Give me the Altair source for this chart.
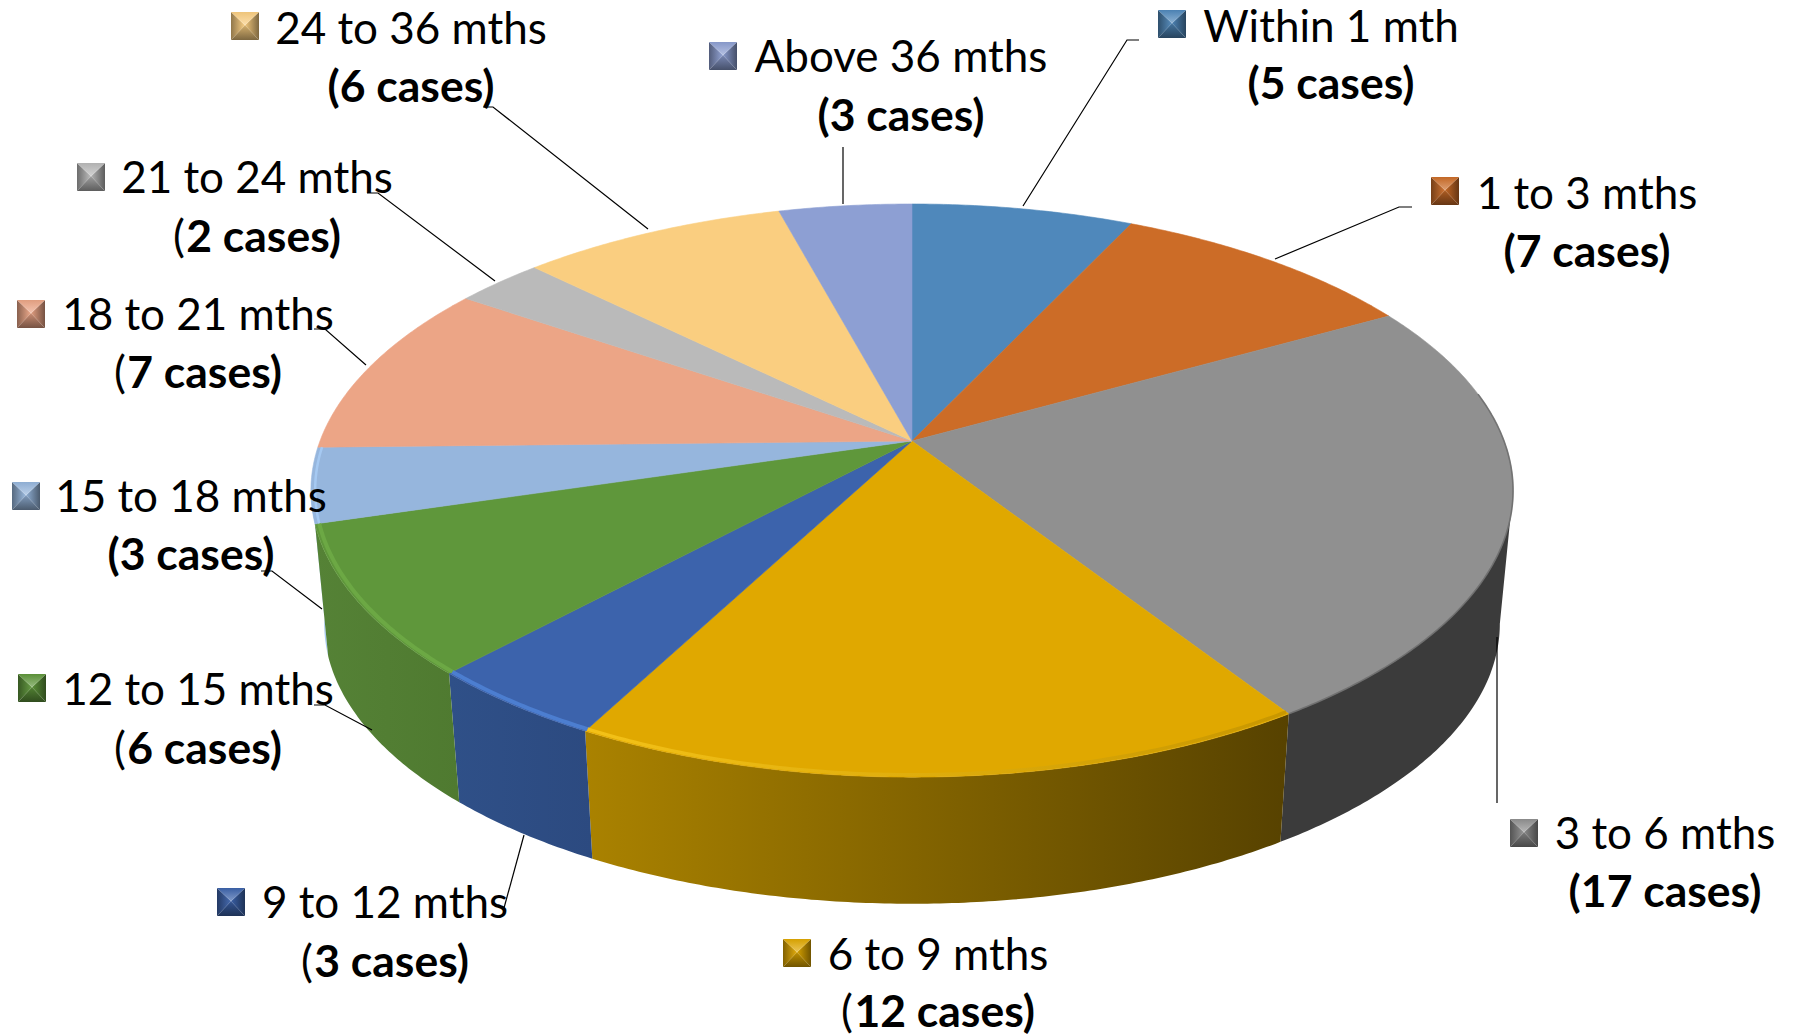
import math
import altair as alt
import pandas as pd

# Months-to-outcome groups, clockwise from twelve o'clock
GROUPS = ["Within 1 mth", "1 to 3 mths", "3 to 6 mths", "6 to 9 mths", "9 to 12 mths",
          "12 to 15 mths", "15 to 18 mths", "18 to 21 mths", "21 to 24 mths",
          "24 to 36 mths", "Above 36 mths"]
CASES = [5, 7, 17, 12, 3, 6, 3, 7, 2, 6, 3]
TOP_COLOURS = ["#4F88BB", "#CC6C27", "#909090", "#E0A800", "#3C63AC", "#5F973B",
               "#96B6DD", "#ECA586", "#BABABA", "#FACE80", "#8D9FD3"]

# Outer wall: slice index, left shade, right shade, visible start/end override (degrees)
WALLS = [(6, "#A8CAF2", "#A8CAF2", None, 262.0),
         (2, "#3B3B3B", "#3B3B3B", 100.0, None),
         (3, "#AA8200", "#574200", None, None),
         (4, "#2F5088", "#2C4A80", None, None),
         (5, "#558236", "#4F7A30", None, None)]
# Bevel along the near rim: slice index, left shade, right shade, weight, radius, start override
RIMS = [(2, "#6A6A6A", "#6A6A6A", 1.6, 1.0, 80.0),
        (3, "#F7C61C", "#C49400", 3.5, 0.993, None),
        (4, "#4F82D6", "#4F82D6", 4.0, 0.993, None),
        (5, "#6EAA46", "#6EAA46", 4.0, 0.993, None),
        (6, "#A8CCF6", "#A8CCF6", 2.5, 0.993, None)]

# Label placement
TEXT_X = [1331, 1587, 1665, 938, 385, 198, 191, 198, 257, 411, 901]
LINE1_Y = [42, 209, 849, 970, 918, 705, 512, 330, 193, 44, 72]
LINE2_Y = [99, 267, 907, 1027, 977, 764, 570, 388, 252, 102, 131]
# Labels whose opening bracket is set in the regular weight
LIGHT_BRACKET = [3, 4, 5, 7, 8]
KEY_X = [1158, 1431, 1510, 783, 217, 18, 12, 17, 77, 231, 709]
KEY_Y = [10, 177, 819, 939, 888, 674, 482, 300, 163, 12, 42]
KEY_SIZE = 28
FONT_SIZE = 44

# Leader lines, as polylines from the pie edge to the label
LEADERS = [
    [(1023, 206), (1127, 40), (1139, 40)],
    [(1275, 259), (1399, 207), (1412, 207)],
    [(1497, 637), (1497, 803)],
    [(524, 835), (504, 908)],
    [(372, 730), (325, 705), (314, 705)],
    [(322, 609), (272, 571), (261, 571)],
    [(366, 365), (325, 329), (314, 329)],
    [(495, 281), (378, 193), (367, 193)],
    [(648, 229), (493, 107), (483, 107)],
    [(843, 204), (843, 147)],
]

# Tilted-disc geometry: perspective projection of a unit circle
CENTRE_X, TOP_APEX_Y, BOTTOM_APEX_Y = 912, 441, 575
RADIUS_X, RADIUS_Y, PERSPECTIVE = 592, 278, 0.173
BOTTOM_SCALE = 0.978
WIDTH, HEIGHT = 1797, 1035

x_scale = alt.Scale(domain=[0, WIDTH], nice=False, zero=False)
y_scale = alt.Scale(domain=[HEIGHT, 0], nice=False, zero=False)
X = alt.X("x:Q", scale=x_scale, axis=None)
Y = alt.Y("y:Q", scale=y_scale, axis=None)


def project(deg, r=1.0, apex_y=TOP_APEX_Y):
    t = math.radians(deg)
    sx, cy = math.sin(t), math.cos(t)
    w = 1 + PERSPECTIVE * cy
    return CENTRE_X + r * RADIUS_X * sx / w, apex_y - r * RADIUS_Y * cy / w


def arc(start, end, r=1.0, apex_y=TOP_APEX_Y):
    n = max(2, int(abs(end - start) * 2))
    return [project(start + (end - start) * i / n, r, apex_y) for i in range(n + 1)]


def frame(points):
    return pd.DataFrame([{"x": p[0], "y": p[1], "i": i} for i, p in enumerate(points)])


def polygon(points, fill):
    # A closed outline drawn as a filled line so that it can sit on the x/y scales
    closed = list(points) + [points[0]]
    return alt.Chart(frame(closed)).mark_line(
        fill=fill, stroke=fill if isinstance(fill, str) else None,
        strokeWidth=0.6, interpolate="linear"
    ).encode(x=X, y=Y, order="i:Q")


def shade(left, right, vertical=False):
    return alt.Gradient(gradient="linear", x1=0, y1=0, x2=0 if vertical else 1, y2=1 if vertical else 0,
                        stops=[alt.GradientStop(color=left, offset=0),
                               alt.GradientStop(color=right, offset=1)])


def mix(colour, other, share):
    a = [int(colour[i:i + 2], 16) for i in (1, 3, 5)]
    b = [int(other[i:i + 2], 16) for i in (1, 3, 5)]
    return "#" + "".join(f"{round(u + (v - u) * share):02X}" for u, v in zip(a, b))


total = sum(CASES)
edges = [0.0]
for c in CASES:
    edges.append(edges[-1] + 360 * c / total)

layers = []

# Outer wall of the slices on the near side
for idx, left, right, start, end in WALLS:
    a = edges[idx] if start is None else start
    b = edges[idx + 1] if end is None else end
    outline = arc(a, b) + arc(b, a, BOTTOM_SCALE, BOTTOM_APEX_Y)
    layers.append(polygon(outline, shade(left, right)))

# Top face
for idx, colour in enumerate(TOP_COLOURS):
    outline = [(CENTRE_X, TOP_APEX_Y)] + arc(edges[idx], edges[idx + 1])
    layers.append(polygon(outline, colour))

# Soft bevel along the near rim
for idx, left, right, weight, radius, start in RIMS:
    a = edges[idx] if start is None else start
    rim = arc(a, edges[idx + 1], radius)
    stroke = left if left == right else shade(left, right)
    layers.append(alt.Chart(frame(rim)).mark_line(stroke=stroke, strokeWidth=weight, opacity=0.85)
                  .encode(x=X, y=Y, order="i:Q"))

# Bevelled legend keys: four facets meeting just above the middle
for kx, ky, colour in zip(KEY_X, KEY_Y, TOP_COLOURS):
    s = KEY_SIZE
    mid = (kx + s / 2, ky + s * 0.47)
    tl, tr, bl, br = (kx, ky), (kx + s, ky), (kx, ky + s), (kx + s, ky + s)
    layers.append(polygon([tl, bl, mid], shade(mix(colour, "#000000", 0.42), mix(colour, "#FFFFFF", 0.05))))
    layers.append(polygon([tr, br, mid], shade(mix(colour, "#000000", 0.05), mix(colour, "#000000", 0.5))))
    layers.append(polygon([bl, br, mid], shade(mix(colour, "#000000", 0.15), mix(colour, "#000000", 0.5), True)))
    layers.append(polygon([tl, tr, mid], shade(mix(colour, "#000000", 0.05), mix(colour, "#FFFFFF", 0.35), True)))

# Leader lines
for line in LEADERS:
    layers.append(alt.Chart(frame(line)).mark_line(stroke="#000000", strokeWidth=1.2)
                  .encode(x=X, y=Y, order="i:Q"))

# Two-line labels
names = pd.DataFrame({"x": TEXT_X, "y": LINE1_Y, "name": GROUPS})
layers.append(alt.Chart(names).mark_text(
    font="Lato", fontSize=FONT_SIZE, align="center", baseline="alphabetic", color="#000000"
).encode(x=X, y=Y, text="name:N"))

whole = [i for i in range(len(CASES)) if i not in LIGHT_BRACKET]
counts = pd.DataFrame({"x": [TEXT_X[i] for i in whole], "y": [LINE2_Y[i] for i in whole],
                       "label": [f"({CASES[i]} cases)" for i in whole]})
layers.append(alt.Chart(counts).mark_text(
    font="Lato", fontSize=FONT_SIZE + 0.5, fontWeight="bold", align="center", baseline="alphabetic", color="#000000"
).encode(x=X, y=Y, text="label:N"))

half_width = [97 if CASES[i] > 9 else 84 for i in LIGHT_BRACKET]
brackets = pd.DataFrame({"x": [TEXT_X[i] - h for i, h in zip(LIGHT_BRACKET, half_width)],
                         "y": [LINE2_Y[i] for i in LIGHT_BRACKET], "label": "("})
layers.append(alt.Chart(brackets).mark_text(
    font="Lato", fontSize=FONT_SIZE + 0.5, align="left", baseline="alphabetic", color="#000000"
).encode(x=X, y=Y, text="label:N"))
remainders = pd.DataFrame({"x": [TEXT_X[i] + h for i, h in zip(LIGHT_BRACKET, half_width)],
                           "y": [LINE2_Y[i] for i in LIGHT_BRACKET],
                           "label": [f"{CASES[i]} cases)" for i in LIGHT_BRACKET]})
layers.append(alt.Chart(remainders).mark_text(
    font="Lato", fontSize=FONT_SIZE + 0.5, fontWeight="bold", align="right", baseline="alphabetic", color="#000000"
).encode(x=X, y=Y, text="label:N"))

chart = alt.layer(*layers).properties(
    width=WIDTH, height=HEIGHT, padding=0, background="#FFFFFF",
    autosize=alt.AutoSizeParams(type="none")
).configure_view(stroke=None)

chart.save("out.html", embed_options={"renderer": "svg", "actions": False})
